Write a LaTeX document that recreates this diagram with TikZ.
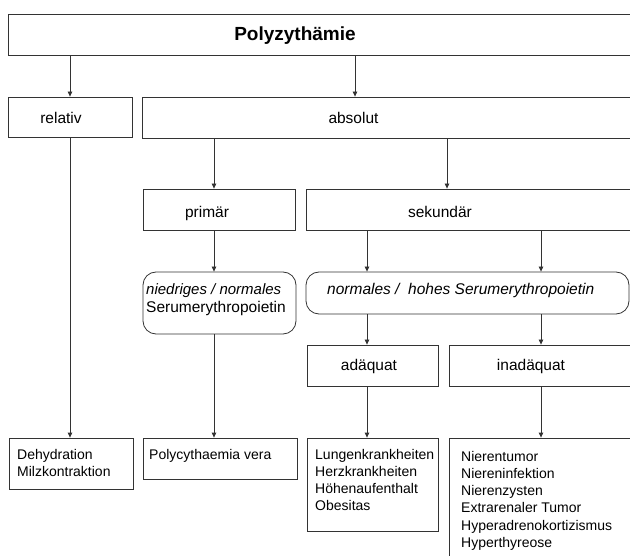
\documentclass[tikz,border=0pt]{standalone}
\usepackage{fontspec}
\setmainfont{Liberation Sans}
\usetikzlibrary{arrows.meta}
\begin{document}
\begin{tikzpicture}[x=1pt,y=-1pt,
  box/.style={draw=black!80, line width=0.8pt, inner sep=0pt, rectangle},
  rbox/.style={box, rounded corners=13pt},
  lbl/.style={inner sep=0pt, anchor=base, font=\fontsize{15.5}{18}\selectfont},
  ttl/.style={inner sep=0pt, anchor=base, font=\fontsize{19}{22}\selectfont\bfseries},
  lst/.style={inner sep=0pt, anchor=north west, align=left, font=\fontsize{14}{17.2}\selectfont},
  mid/.style={inner sep=0pt, anchor=north west, align=left, font=\fontsize{15}{17.5}\selectfont},
  arr/.style={draw=black!80, line width=0.8pt, -{Triangle[length=5pt,width=4.5pt]}}]
\fill[white] (0,0) rectangle (630,556);
\useasboundingbox (0,0) rectangle (630,556);
\clip (0,0) rectangle (630,556);

% boxes
\node[box, minimum width=632pt, minimum height=41pt] (title) at (324,34.5) {};
\node[box, minimum width=124pt, minimum height=40pt] (relativ) at (70,117) {};
\node[box, minimum width=498pt, minimum height=41pt] (absolut) at (391,117.5) {};
\node[box, minimum width=152pt, minimum height=41pt] (primaer) at (219,209.5) {};
\node[box, minimum width=334pt, minimum height=41pt] (sekundaer) at (473,209.5) {};
\node[rbox, minimum width=153pt, minimum height=62pt] (epoA) at (219.5,303) {};
\node[rbox, minimum width=323pt, minimum height=42pt] (epoB) at (467.5,293) {};
\node[box, minimum width=131pt, minimum height=41pt] (adaeq) at (372.5,365.5) {};
\node[box, minimum width=191pt, minimum height=41pt] (inadaeq) at (544.5,365.5) {};
\node[box, minimum width=124pt, minimum height=51pt] (deh) at (71,463.5) {};
\node[box, minimum width=154pt, minimum height=41pt] (poly) at (220,458.5) {};
\node[box, minimum width=131pt, minimum height=93pt] (lung) at (372.5,484.5) {};
\node[box, minimum width=191pt, minimum height=142pt] (nier) at (544.5,509) {};

% texts
\node[ttl] (tTitle) at (295,41) {Polyzythämie};
\node[lbl] (tRel) at (61,124) {relativ};
\node[lbl] (tAbs) at (353.5,124) {absolut};
\node[lbl] (tPrim) at (207,217.5) {primär};
\node[lbl] (tSek) at (440,217.5) {sekundär};
\node[mid] (tEpoA) at (146,283.5) {\itshape niedriges / normales\\\fontsize{15.5}{17.5}\selectfont Serumerythropoietin};
\node[lbl, anchor=base west] (tEpoB) at (327,295) {\itshape normales /\ \ hohes Serumerythropoietin};
\node[lbl] (tAdq) at (369,371) {adäquat};
\node[lbl] (tInadq) at (531,371) {inadäquat};
\node[lst] (tDeh) at (17,448.7) {Dehydration\\Milzkontraktion};
\node[lst] (tPoly) at (149,448.7) {Polycythaemia vera};
\node[lst] (tLung) at (315,448.7) {Lungenkrankheiten\\Herzkrankheiten\\Höhenaufenthalt\\Obesitas};
\node[lst] (tNier) at (461,451) {Nierentumor\\Niereninfektion\\Nierenzysten\\Extrarenaler Tumor\\Hyperadrenokortizismus\\Hyperthyreose};

% connector columns
\coordinate (cA) at (70,0);
\coordinate (cB) at (355,0);
\coordinate (cC) at (214,0);
\coordinate (cD) at (447,0);
\coordinate (cE) at (367,0);
\coordinate (cF) at (541,0);

\draw[arr] (title.south -| cA) -- (relativ.north -| cA);
\draw[arr] (title.south -| cB) -- (absolut.north -| cB);
\draw[arr] (relativ.south -| cA) -- (deh.north -| cA);
\draw[arr] (absolut.south -| cC) -- (primaer.north -| cC);
\draw[arr] (absolut.south -| cD) -- (sekundaer.north -| cD);
\draw[arr] (primaer.south -| cC) -- (epoA.north -| cC);
\draw[arr] (epoA.south -| cC) -- (poly.north -| cC);
\draw[arr] (sekundaer.south -| cE) -- (epoB.north -| cE);
\draw[arr] (sekundaer.south -| cF) -- (epoB.north -| cF);
\draw[arr] (epoB.south -| cE) -- (adaeq.north -| cE);
\draw[arr] (epoB.south -| cF) -- (inadaeq.north -| cF);
\draw[arr] (adaeq.south -| cE) -- (lung.north -| cE);
\draw[arr] (inadaeq.south -| cF) -- (nier.north -| cF);
\end{tikzpicture}
\end{document}
